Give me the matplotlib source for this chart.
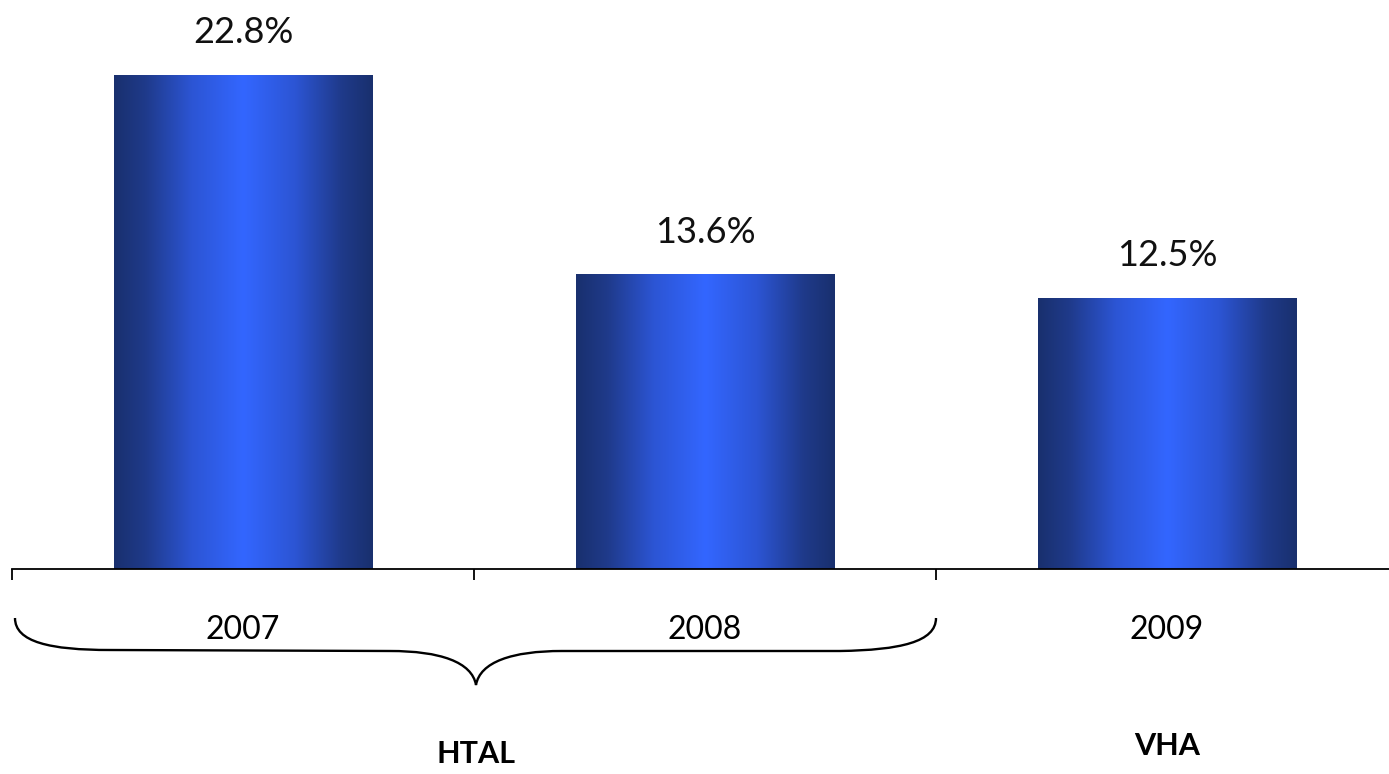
import numpy as np
import matplotlib
matplotlib.use("Agg")
import matplotlib.pyplot as plt
from matplotlib.path import Path
from matplotlib.patches import PathPatch
from matplotlib.colors import LinearSegmentedColormap

years = ["2007", "2008", "2009"]
values = [22.8, 13.6, 12.5]
groups = ["HTAL", "VHA"]

plt.rcParams['font.family'] = ['Lato', 'DejaVu Sans']

W, H = 1389, 774
fig = plt.figure(figsize=(W / 100, H / 100), dpi=100)
ax = fig.add_axes([12 / W, (H - 569) / H, 1386 / W, 569 / H])

x = np.arange(len(years))
bars = ax.bar(x, values, width=0.56, color='none', edgecolor='none')

cmap = LinearSegmentedColormap.from_list(
    "blu", [(0, "#19306e"), (0.12, "#1f3a8a"), (0.3, "#2c55d4"),
            (0.5, "#3366ff"), (0.7, "#2c55d4"), (0.88, "#1f3a8a"),
            (1, "#19306e")])
grad = np.linspace(0, 1, 256).reshape(1, -1)
for b, v in zip(bars, values):
    bx, bw = b.get_x(), b.get_width()
    im = ax.imshow(grad, cmap=cmap, aspect='auto',
                   extent=[bx, bx + bw, 0, v], zorder=2)
    im.set_clip_path(b)
    ax.text(bx + bw / 2, v + 1.95, f"{v:.1f}%", ha='center', va='center',
            fontsize=26, color='#111111')

ax.set_xlim(-0.5, 2.5)
ax.set_ylim(0, 569 / 21.67)
for s in ['top', 'right', 'left']:
    ax.spines[s].set_visible(False)
ax.spines['bottom'].set_linewidth(1.3)
ax.set_yticks([])
ax.set_xticks(x)
ax.set_xticklabels(years, fontsize=23)
ax.tick_params(axis='x', which='major', length=0, pad=33)
ax.set_xticks([-0.5, 0.5, 1.5], minor=True)
ax.tick_params(axis='x', which='minor', length=8, width=1.3, direction='out')

# overlay in pixel coordinates for the brace and group labels
ov = fig.add_axes([0, 0, 1, 1])
ov.set_xlim(0, W)
ov.set_ylim(H, 0)
ov.axis('off')
ov.patch.set_alpha(0)

verts = [(15, 618), (15, 642), (50, 650), (110, 650),
         (390, 651),
         (440, 651), (472, 662), (476, 685),
         (480, 662), (512, 651), (562, 651),
         (840, 651),
         (900, 650), (936, 642), (936, 618)]
codes = [Path.MOVETO, Path.CURVE4, Path.CURVE4, Path.CURVE4,
         Path.LINETO,
         Path.CURVE4, Path.CURVE4, Path.CURVE4,
         Path.CURVE4, Path.CURVE4, Path.CURVE4,
         Path.LINETO,
         Path.CURVE4, Path.CURVE4, Path.CURVE4]
ov.add_patch(PathPatch(Path(verts, codes), facecolor='none',
                       edgecolor='black', lw=1.7))

ov.text(476, 754, groups[0], ha='center', va='center', fontsize=22,
        fontweight='bold')
ov.text(1167, 746, groups[1], ha='center', va='center', fontsize=22,
        fontweight='bold')

fig.savefig("out.png", dpi=100)
